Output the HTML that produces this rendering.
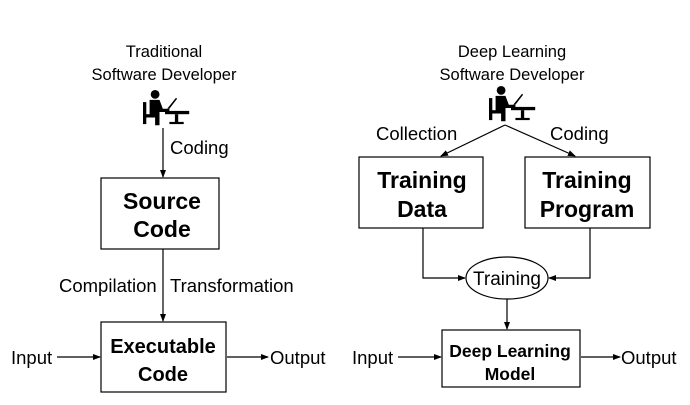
<!DOCTYPE html>
<html><head><meta charset="utf-8"><style>body{margin:0;background:#fff}</style></head><body>
<svg width="690" height="400" viewBox="0 0 690 400" xmlns="http://www.w3.org/2000/svg" font-family="Liberation Sans, sans-serif">
<defs><marker id="a" markerWidth="8" markerHeight="8" refX="7" refY="4" orient="auto" markerUnits="userSpaceOnUse"><path d="M0,1 L8,4 L0,7 z" fill="#000"/></marker>
<g id="dev"><circle cx="11" cy="4" r="4" fill="#000"/><path d="M6,9 h9 l3,8 h6 v3 h-9 v12 h-4 v-9 h-5 z" fill="#000"/><rect x="0" y="11" width="3" height="20" fill="#000"/><rect x="0" y="22" width="14" height="3" fill="#000"/><path d="M22,17 l8,-10 l1,1 l-7,9z" fill="#000"/><rect x="20" y="19" width="22" height="3" fill="#000"/><rect x="29" y="22" width="3" height="8" fill="#000"/><rect x="24" y="29" width="13" height="2" fill="#000"/></g></defs>
<g font-size="16.5" text-anchor="middle">
<text x="164" y="57">Traditional</text><text x="164" y="80">Software Developer</text>
<text x="512" y="57">Deep Learning</text><text x="512" y="80">Software Developer</text></g>
<use href="#dev" transform="translate(143,90) scale(1.1)"/><use href="#dev" transform="translate(489,86) scale(1.1)"/>
<g stroke="#000" stroke-width="1.2" fill="none">
<line x1="163" y1="128" x2="163" y2="177" marker-end="url(#a)"/>
<rect x="101" y="178" width="118" height="71"/>
<line x1="163" y1="249" x2="163" y2="321" marker-end="url(#a)"/>
<rect x="101" y="322" width="125" height="70"/>
<line x1="57" y1="357" x2="100" y2="357" marker-end="url(#a)"/>
<line x1="227" y1="357" x2="268" y2="357" marker-end="url(#a)"/>
<line x1="505" y1="125" x2="441" y2="156" marker-end="url(#a)"/>
<line x1="505" y1="125" x2="575" y2="156" marker-end="url(#a)"/>
<rect x="359" y="157" width="124" height="71"/>
<rect x="525" y="157" width="125" height="71"/>
<polyline points="423,228 423,278 465,278" marker-end="url(#a)"/>
<polyline points="590,228 590,278 549,278" marker-end="url(#a)"/>
<ellipse cx="507" cy="278" rx="41" ry="21"/>
<line x1="507" y1="299" x2="507" y2="329" marker-end="url(#a)"/>
<rect x="442" y="330" width="138" height="57"/>
<line x1="398" y1="357" x2="441" y2="357" marker-end="url(#a)"/>
<line x1="581" y1="357" x2="620" y2="357" marker-end="url(#a)"/>
</g>
<g font-size="18.5">
<text x="170" y="154">Coding</text>
<text x="59" y="292">Compilation</text><text x="170" y="292">Transformation</text>
<text x="11" y="364">Input</text><text x="270" y="364">Output</text>
<text x="376" y="140">Collection</text><text x="550" y="140">Coding</text>
<text x="352" y="364">Input</text><text x="621" y="364">Output</text>
<text x="507" y="285" text-anchor="middle" font-size="19">Training</text>
</g>
<g font-size="23" font-weight="bold" text-anchor="middle">
<text x="162" y="209">Source</text><text x="162" y="237">Code</text>
<text x="163" y="353" font-size="20">Executable</text><text x="163" y="381" font-size="20">Code</text>
<text x="422" y="188">Training</text><text x="422" y="217">Data</text>
<text x="587" y="188">Training</text><text x="587" y="217">Program</text>
<text x="510" y="357" font-size="17.5">Deep Learning</text><text x="510" y="380" font-size="17.5">Model</text>
</g>
</svg>
</body></html>
